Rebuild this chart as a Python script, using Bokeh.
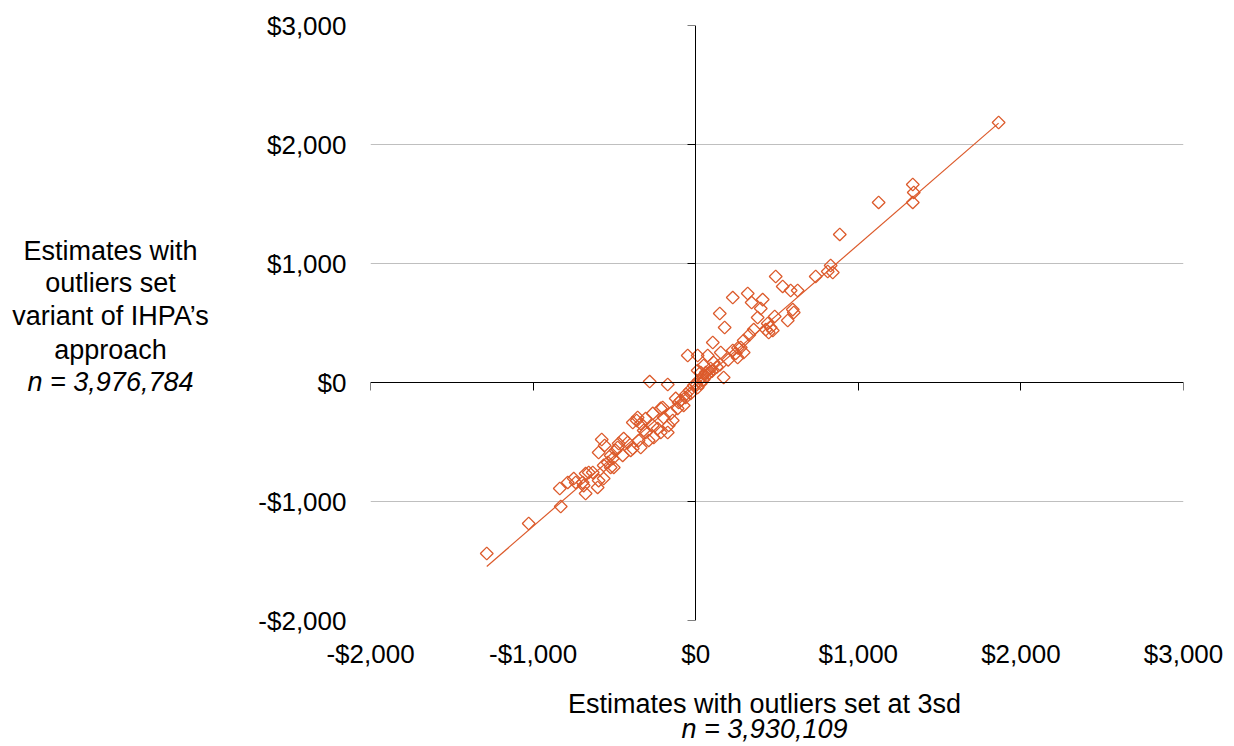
import numpy as np
from bokeh.plotting import figure
from bokeh.layouts import row, column
from bokeh.models import LinearAxis, FixedTicker, Range1d
from bokeh.core.properties import value
from bokeh.embed import file_html
from bokeh.resources import INLINE

# ---- data ----
x_vals = [1863, 1335, 1341, 1335, 1125, 886, 830, 843, 812, 738, 627, 584, 597, 603,
          492, 535, 320, 228, 344, 412, 400, 148, 381, 486, 566, 443, 461, 474, 449,
          431, 357, 295, 277, 178, 105, 154, 228, 246, 258, 295, 74, 12, 111, 49, 92,
          31, 80, 172, 12, -49, -283, -172, -357, -308, -264, -215, -197, -387, -338,
          -308, -578, -560, -443, -418, -474, -387, -351, -597, -523, -510, -541, -566,
          -523, -658, -677, -633, -750, -738, -566, -695, -689, -787, -603, -1285,
          -1027, -830, -836, -677, -597, -504, -480, -400, -363, -320, -258, -264,
          -234, -203, -172, -154, -111, -92, -62, -31, 12, -123, -105, -74, -12, 18,
          43, -37, 62, 31, 49, -141, -166, -215, -289, -338, -449, -492, 100, 130,
          -60, 5, 70, 200, 260, 330, 150]
y_vals = [2185, 1664, 1597, 1513, 1513, 1244, 983, 924, 933, 891, 773, 773, 613, 588,
          891, 807, 748, 714, 672, 697, 622, 580, 546, 555, 521, 496, 462, 437, 420,
          445, 445, 353, 294, 462, 336, 252, 269, 244, 210, 252, 227, 227, 168, 143,
          118, 84, 76, 42, 101, 227, 8, -17, -294, -303, -260, -218, -294, -336, -345,
          -420, -479, -529, -471, -504, -513, -555, -487, -588, -613, -639, -672, -697,
          -714, -756, -765, -756, -807, -840, -807, -840, -866, -840, -882, -1437,
          -1185, -1042, -891, -933, -824, -714, -546, -571, -319, -403, -462, -361,
          -387, -210, -420, -260, -218, -151, -126, -92, -42, -134, -168, -193, -25,
          17, 50, -67, 84, -8, 25, -319, -361, -420, -487, -546, -613, -571, 95, 130,
          -100, -20, 60, 190, 290, 400, 150]
trend_x = [-1285, 1863]
trend_y = [-1546, 2180]
tick_values = [-2000, -1000, 0, 1000, 2000, 3000]
tick_labels = ["-$2,000", "-$1,000", "$0", "$1,000", "$2,000", "$3,000"]
x_title = "Estimates with outliers set at 3sd"
x_n = "n = 3,930,109"
y_title_lines = ["Estimates with", "outliers set", "variant of IHPA\u2019s", "approach"]
y_n = "n = 3,976,784"

COLOR = "#DC5A2B"
FONT = "Liberation Sans"
TITLE_SIZE = "27px"

x_rng = Range1d(-2000, 3000)
y_rng = Range1d(-2000, 3000)

# ---- main plot ----
p = figure(width=994, height=680, x_range=x_rng, y_range=y_rng,
           output_backend="svg", toolbar_location=None,
           min_border_left=130, min_border_right=51, min_border_top=25,
           min_border_bottom=60)
p.outline_line_color = None

labels_map = {v: t for v, t in zip(tick_values, tick_labels)}
for ax in (p.xaxis[0], p.yaxis[0]):
    ax.ticker = FixedTicker(ticks=tick_values)
    ax.major_label_overrides = labels_map
    ax.axis_line_color = None
    ax.major_tick_line_color = None
    ax.major_tick_out = 0
    ax.major_tick_in = 0
    ax.minor_tick_line_color = None
    ax.major_label_text_font = FONT
    ax.major_label_text_font_size = "26px"
    ax.major_label_text_color = "black"
p.yaxis[0].major_label_standoff = 24
p.xaxis[0].major_label_standoff = 18

p.xgrid.visible = False
p.ygrid.grid_line_color = "#BFBFBF"
p.ygrid.grid_line_width = 1

blank = {v: "" for v in tick_values}
for side in ("below", "left"):
    ax0 = LinearAxis(fixed_location=0, ticker=FixedTicker(ticks=tick_values),
                     major_label_overrides=blank, major_tick_in=0, major_tick_out=8,
                     minor_tick_line_color=None, axis_line_color="black",
                     major_tick_line_color="black", axis_line_width=1)
    p.add_layout(ax0, side)

p.line(trend_x, trend_y, line_color=COLOR, line_width=1.2)
p.scatter(x_vals, y_vals, marker="square", size=9, angle=np.pi / 4,
          fill_color=None, line_color=COLOR, line_width=1.3)

# ---- left panel: y-axis title ----
left = figure(width=240, height=680, x_range=Range1d(0, 240), y_range=y_rng,
              output_backend="svg", toolbar_location=None,
              x_axis_location=None, y_axis_location=None,
              min_border_left=0, min_border_right=0, min_border_top=25,
              min_border_bottom=60)
left.outline_line_color = None
left.grid.visible = False
y_centers = [1109, 840, 563, 277]
left.text(x=[110] * len(y_title_lines), y=y_centers, text=y_title_lines,
          text_align="center", text_baseline="middle",
          text_font=value(FONT), text_font_size=value(TITLE_SIZE), text_color="black")
left.text(x=[110], y=[8], text=[y_n], text_align="center", text_baseline="middle",
          text_font=value(FONT), text_font_size=value(TITLE_SIZE),
          text_font_style="italic", text_color="black")

# ---- bottom panel: x-axis title ----
bottom = figure(width=1234, height=66, x_range=Range1d(0, 1234), y_range=Range1d(66, 0),
                output_backend="svg", toolbar_location=None,
                x_axis_location=None, y_axis_location=None,
                min_border=0)
bottom.outline_line_color = None
bottom.grid.visible = False
bottom.text(x=[764], y=[23], text=[x_title], text_align="center",
            text_baseline="middle", text_font=value(FONT),
            text_font_size=value(TITLE_SIZE), text_color="black")
bottom.text(x=[764], y=[48], text=[x_n], text_align="center",
            text_baseline="middle", text_font=value(FONT),
            text_font_size=value(TITLE_SIZE), text_font_style="italic",
            text_color="black")

layout = column(row(left, p), bottom)
open("out.html", "w").write(file_html(layout, INLINE))
